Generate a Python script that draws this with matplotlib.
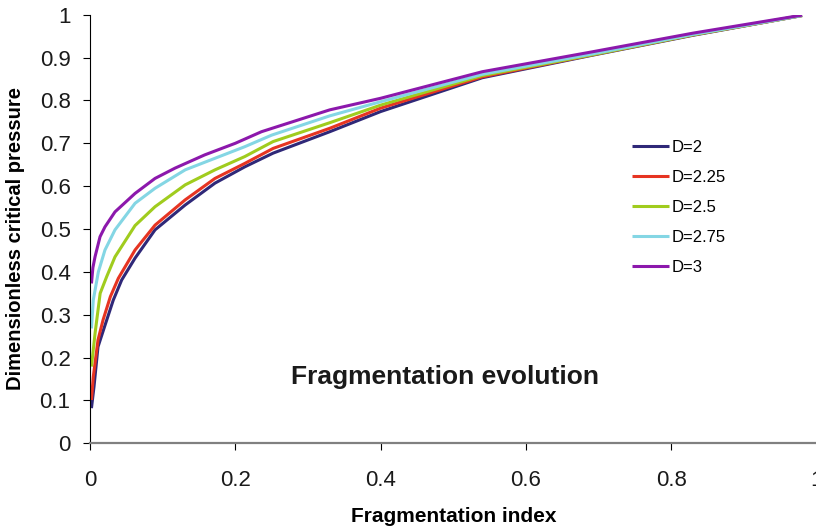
import matplotlib

matplotlib.use("Agg")
import matplotlib.pyplot as plt

plt.rcParams["font.family"] = ["Liberation Sans", "DejaVu Sans"]

# Fragmentation index (x) and dimensionless critical pressure (y)
x_d2 = [0.002, 0.0055, 0.011, 0.02, 0.032, 0.0436, 0.062, 0.0895, 0.131, 0.172,
        0.213, 0.252, 0.33, 0.40, 0.54, 0.69, 0.83, 0.98]
y_d2 = [0.082, 0.132, 0.225, 0.272, 0.334, 0.381, 0.432, 0.498, 0.556, 0.607,
        0.645, 0.677, 0.727, 0.774, 0.853, 0.905, 0.952, 0.998]

x_d225 = [0.002, 0.0045, 0.011, 0.018, 0.028, 0.039, 0.062, 0.0895, 0.131, 0.172,
          0.213, 0.252, 0.33, 0.40, 0.54, 0.69, 0.83, 0.98]
y_d225 = [0.101, 0.155, 0.241, 0.288, 0.342, 0.385, 0.451, 0.509, 0.568, 0.618,
          0.653, 0.688, 0.735, 0.782, 0.855, 0.906, 0.953, 0.998]

x_d25 = [0.002, 0.007, 0.014, 0.023, 0.0344, 0.062, 0.0895, 0.131, 0.172, 0.213,
         0.252, 0.33, 0.40, 0.54, 0.69, 0.83, 0.98]
y_d25 = [0.179, 0.257, 0.350, 0.389, 0.435, 0.508, 0.552, 0.603, 0.638, 0.669,
         0.704, 0.748, 0.789, 0.858, 0.906, 0.953, 0.998]

x_d275 = [0.002, 0.0045, 0.0115, 0.0206, 0.0344, 0.062, 0.0895, 0.131, 0.172, 0.213,
          0.25, 0.33, 0.40, 0.54, 0.69, 0.83, 0.98]
y_d275 = [0.268, 0.334, 0.400, 0.451, 0.498, 0.560, 0.595, 0.638, 0.665, 0.692,
          0.719, 0.764, 0.797, 0.861, 0.908, 0.954, 0.998]

x_d3 = [0.002, 0.004, 0.0069, 0.0138, 0.0206, 0.0344, 0.062, 0.0895, 0.117, 0.158,
        0.20, 0.236, 0.33, 0.40, 0.54, 0.69, 0.83, 0.98]
y_d3 = [0.373, 0.410, 0.435, 0.482, 0.505, 0.540, 0.583, 0.618, 0.642, 0.673,
        0.700, 0.727, 0.778, 0.805, 0.867, 0.913, 0.957, 0.999]

series = [
    ("D=2", x_d2, y_d2, "#2f2878"),
    ("D=2.25", x_d225, y_d225, "#e63422"),
    ("D=2.5", x_d25, y_d25, "#a0cc1e"),
    ("D=2.75", x_d275, y_d275, "#84d6e4"),
    ("D=3", x_d3, y_d3, "#8c18ac"),
]

x_ticks = [0, 0.2, 0.4, 0.6, 0.8, 1]
x_tick_labels = ["0", "0.2", "0.4", "0.6", "0.8", "1"]
y_ticks = [0, 0.1, 0.2, 0.3, 0.4, 0.5, 0.6, 0.7, 0.8, 0.9, 1]
y_tick_labels = ["0", "0.1", "0.2", "0.3", "0.4", "0.5", "0.6", "0.7", "0.8", "0.9", "1"]

fig = plt.figure(figsize=(8.16, 5.26), dpi=100)
ax = fig.add_axes([90 / 816, 82.7 / 526, 726.6 / 816, 428.6 / 526])

for label, xs, ys, color in series:
    ax.plot(xs, ys, color=color, linewidth=2.2, label=label, solid_capstyle="butt")

ax.set_xlim(0, 1)
ax.set_ylim(0, 1)
ax.set_xticks(x_ticks)
ax.set_xticklabels(x_tick_labels)
ax.set_yticks(y_ticks)
ax.set_yticklabels(y_tick_labels)

ax.spines["top"].set_visible(False)
ax.spines["right"].set_visible(False)
ax.spines["bottom"].set_color("#808080")
ax.spines["bottom"].set_linewidth(1.6)
ax.spines["left"].set_color("black")
ax.spines["left"].set_linewidth(0.8)

ax.tick_params(axis="x", direction="out", length=5, width=0.8, pad=14,
               labelsize=16, colors="black", labelcolor="#1a1a1a")
ax.tick_params(axis="y", direction="out", length=5, width=0.8, pad=9,
               labelsize=16, colors="black", labelcolor="#1a1a1a")

ax.set_xlabel("Fragmentation index", fontsize=15, fontweight="bold")
ax.xaxis.set_label_coords(0.5, -0.149)
ax.set_ylabel("Dimensionless critical pressure", fontsize=14.5, fontweight="bold")
ax.yaxis.set_label_coords(-0.0895, 0.477)

ax.text(0.4886, 0.155, "Fragmentation evolution", fontsize=19, fontweight="bold",
        ha="center", va="center", color="#1a1a1a", transform=ax.transData)

ax.legend(loc="upper left", bbox_to_anchor=(0.746, 0.707), frameon=False,
          fontsize=12, handlelength=2.2, handletextpad=0.2, labelspacing=0.9,
          borderaxespad=0, borderpad=0)

fig.savefig("out.png", dpi=100)
